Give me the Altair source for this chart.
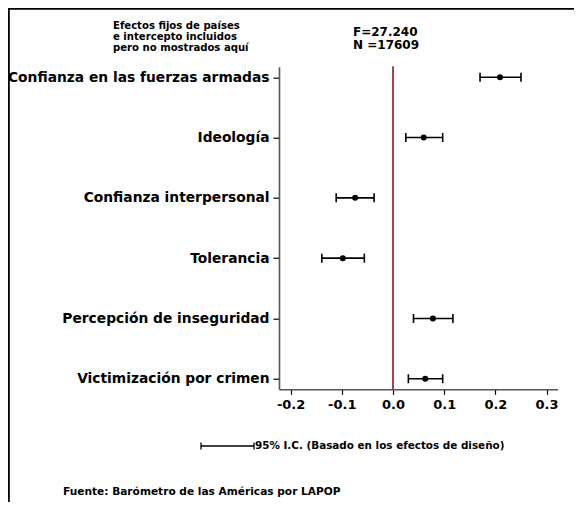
import altair as alt
import pandas as pd

# ---- data ----
variables = [
    "Confianza en las fuerzas armadas",
    "Ideología",
    "Confianza interpersonal",
    "Tolerancia",
    "Percepción de inseguridad",
    "Victimización por crimen",
]
coef = [0.209, 0.060, -0.074, -0.098, 0.078, 0.063]
ci_low = [0.170, 0.025, -0.111, -0.139, 0.040, 0.030]
ci_high = [0.250, 0.097, -0.037, -0.056, 0.117, 0.097]
x_ticks = [-0.2, -0.1, 0.0, 0.1, 0.2, 0.3]
x_domain = [-0.2227, 0.3217]
note_lines = ["Efectos fijos de países", "e intercepto incluidos", "pero no mostrados aquí"]
stats_lines = ["F=27.240", "N =17609"]
legend_text = "95% I.C. (Basado en los efectos de diseño)"
source_text = "Fuente: Barómetro de las Américas por LAPOP"

FONT = "DejaVu Sans"
W, H = 278.7, 322.6

df = pd.DataFrame({"variable": variables, "coef": coef, "lo": ci_low, "hi": ci_high})
dummy = pd.DataFrame({"d": [0]})

xscale = alt.Scale(domain=x_domain, nice=False, zero=False)
yenc = alt.Y(
    "variable:N",
    sort=variables,
    scale=alt.Scale(type="point", padding=0.175),
    axis=alt.Axis(
        title=None,
        labelFont=FONT,
        labelFontWeight="bold",
        labelFontSize=13.8,
        labelColor="#000",
        labelPadding=4,
        labelLimit=0,
        tickSize=6,
        tickColor="#000",
        tickWidth=1.2,
        domainColor="#555",
        domainWidth=1.6,
    ),
)
xaxis = alt.Axis(
    title=None,
    values=x_ticks,
    format=".1f",
    labelExpr="replace(datum.label, '\u2212', '-')",
    labelFont=FONT,
    labelFontWeight="bold",
    labelFontSize=13,
    labelColor="#000",
    labelPadding=4,
    tickSize=5,
    tickColor="#000",
    tickWidth=1.2,
    domainColor="#555",
    domainWidth=1.6,
    grid=False,
)

base = alt.Chart(df)

zero_line = base.mark_rule(color="#a4444c", strokeWidth=1.6).encode(
    x=alt.datum(0, scale=xscale, axis=xaxis)
)
ci_rule = base.mark_rule(color="#000", strokeWidth=1.6).encode(
    x=alt.X("lo:Q", scale=xscale, axis=xaxis), x2="hi:Q", y=yenc
)
cap_lo = base.mark_tick(color="#000", thickness=1.6, size=9, opacity=1).encode(
    x=alt.X("lo:Q", scale=xscale), y=yenc
)
cap_hi = base.mark_tick(color="#000", thickness=1.6, size=9, opacity=1).encode(
    x=alt.X("hi:Q", scale=xscale), y=yenc
)
points = base.mark_circle(color="#000", size=36, opacity=1).encode(
    x=alt.X("coef:Q", scale=xscale), y=yenc
)

deco = alt.Chart(dummy)
note = deco.mark_text(
    text=note_lines, font=FONT, fontWeight="bold", fontSize=10.1, lineHeight=11,
    align="left", baseline="middle", color="#000",
).encode(x=alt.value(-166), y=alt.value(-41))
stats = deco.mark_text(
    text=stats_lines, font=FONT, fontWeight="bold", fontSize=12, lineHeight=13.5,
    align="left", baseline="middle", color="#000",
).encode(x=alt.value(74), y=alt.value(-35))

leg_y = 379.3
leg_line = deco.mark_rule(color="#000", strokeWidth=1.3).encode(
    x=alt.value(-78), x2=alt.value(-25), y=alt.value(leg_y)
)
leg_cap1 = deco.mark_rule(color="#000", strokeWidth=1.3).encode(
    x=alt.value(-78), y=alt.value(leg_y - 3.5), y2=alt.value(leg_y + 3.5)
)
leg_cap2 = deco.mark_rule(color="#000", strokeWidth=1.3).encode(
    x=alt.value(-25), y=alt.value(leg_y - 3.5), y2=alt.value(leg_y + 3.5)
)
leg_text = deco.mark_text(
    text=legend_text, font=FONT, fontWeight="bold", fontSize=10.4,
    align="left", baseline="middle", color="#000",
).encode(x=alt.value(-24), y=alt.value(leg_y))
source = deco.mark_text(
    text=source_text, font=FONT, fontWeight="bold", fontSize=10.6,
    align="left", baseline="middle", color="#000",
).encode(x=alt.value(-216), y=alt.value(425.3))

frame_left = deco.mark_rule(color="#000", strokeWidth=1.8).encode(
    x=alt.value(-270.1), y=alt.value(-57.8), y2=alt.value(450)
)
frame_top = deco.mark_rule(color="#000", strokeWidth=1.8).encode(
    x=alt.value(-271), x2=alt.value(310), y=alt.value(-57.8)
)

chart = alt.layer(
    zero_line, ci_rule, cap_lo, cap_hi, points,
    note, stats, leg_line, leg_cap1, leg_cap2, leg_text, source,
    frame_left, frame_top,
).properties(
    width=W,
    height=H,
    autosize="none",
    padding={"left": 271, "top": 58.7, "right": 16.3, "bottom": 112.7},
    background="#ffffff",
).configure_view(stroke=None)

chart.save("out.html", embed_options={"renderer": "svg", "actions": False})
